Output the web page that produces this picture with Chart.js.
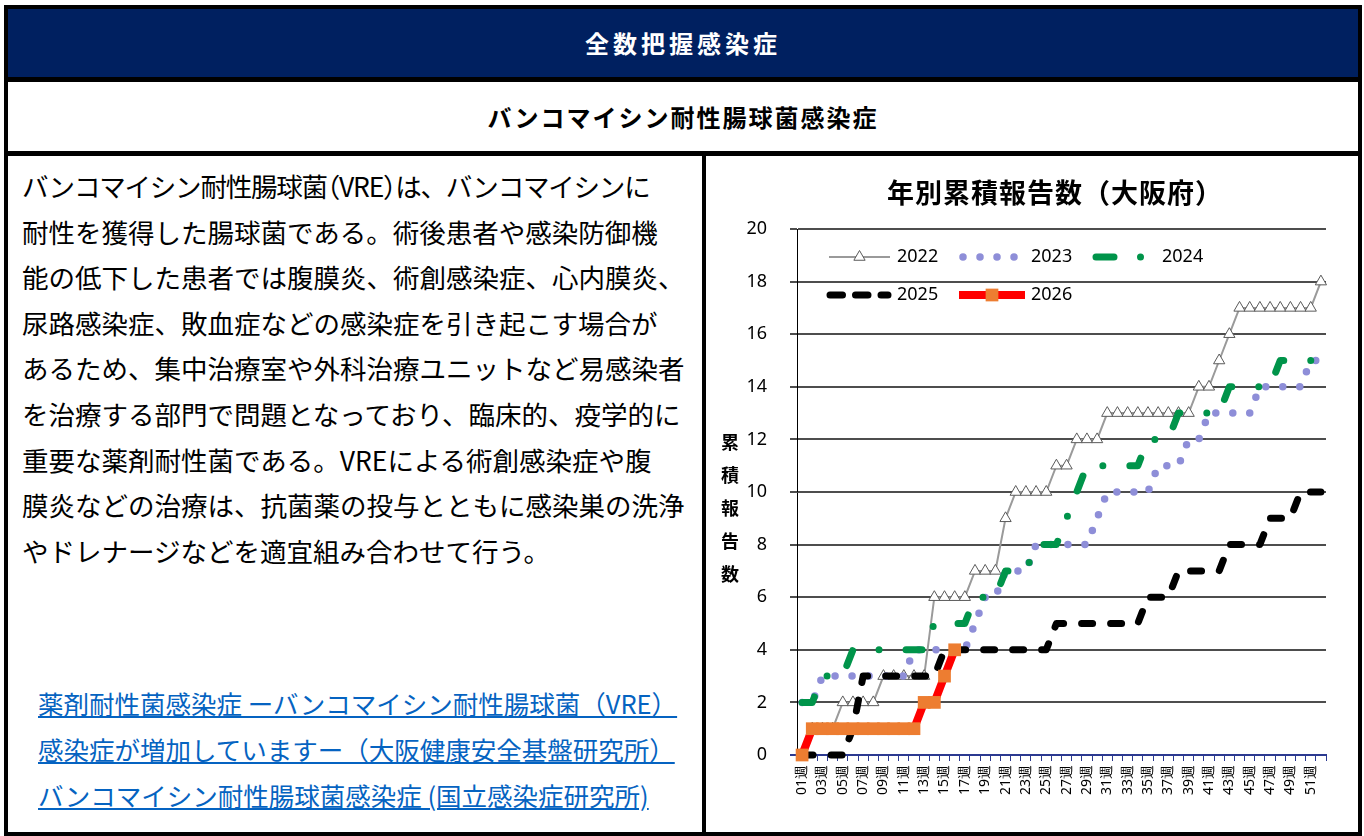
<!DOCTYPE html>
<html>
<head>
<meta charset="UTF-8">
<title>バンコマイシン耐性腸球菌感染症</title>
<style>
    body {
        margin: 0;
        background: #fff;
        font-family: "Noto Sans CJK JP", sans-serif;
    }
    .frame {
        position: absolute;
        left: 4px; top: 5px;
        width: 1358px; height: 831px;
        background: #000;
    }
    .box {
        position: absolute;
        background: #fff;
        overflow: hidden;
    }
    .head {
        left: 8px; top: 9px; width: 1350px; height: 68px;
        background: #002060;
        color: #fff;
        font-weight: bold;
        font-size: 24px;
        letter-spacing: 4px;
        line-height: 68px;
        text-align: center;
    }
    .sub {
        left: 8px; top: 82px; width: 1350px; height: 69px;
        font-weight: bold;
        font-size: 24px;
        letter-spacing: 2px;
        line-height: 69px;
        text-align: center;
    }
    .left {
        left: 8px; top: 156px; width: 694px; height: 676px;
    }
    .right {
        left: 706px; top: 156px; width: 652px; height: 676px;
    }
    .desc {
        position: absolute;
        left: 14px; top: 7px;
        font-size: 26.5px;
        line-height: 45.6px;
        white-space: nowrap;
        color: #000;
    }
    .tight {
        letter-spacing: -1.2px;
    }
    .narrow {
        font-feature-settings: "halt";
    }
    .links {
        position: absolute;
        left: 30px; top: 524px;
        font-size: 25.5px;
        line-height: 46px;
        white-space: nowrap;
    }
    .links a {
        color: #0563c1;
        text-decoration: underline;
    }
</style>
<!-- Chart.js -->
<script src="https://cdn.jsdelivr.net/npm/chart.js"></script>
</head>
<body>

<div class="frame"></div>
<div class="box head">全数把握感染症</div>
<div class="box sub">バンコマイシン耐性腸球菌感染症</div>

<div class="box left">
    <div class="desc">
        <span class="tight">バンコマイシン耐性腸球菌<span class="narrow">（</span>VRE<span class="narrow">）</span>は、バンコマイシンに</span><br>
        耐性を獲得した腸球菌である。術後患者や感染防御機<br>
        能の低下した患者では腹膜炎、術創感染症、心内膜炎、<br>
        尿路感染症、敗血症などの感染症を引き起こす場合が<br>
        あるため、集中治療室や外科治療ユニットなど易感染者<br>
        を治療する部門で問題となっており、臨床的、疫学的に<br>
        重要な薬剤耐性菌である。VREによる術創感染症や腹<br>
        膜炎などの治療は、抗菌薬の投与とともに感染巣の洗浄<br>
        やドレナージなどを適宜組み合わせて行う。
    </div>
    <div class="links">
        <a href="#">薬剤耐性菌感染症 ーバンコマイシン耐性腸球菌（VRE）<br>感染症が増加していますー（大阪健康安全基盤研究所）</a><br>
        <a href="#">バンコマイシン耐性腸球菌感染症 (国立感染症研究所)</a>
    </div>
</div>

<div class="box right">
    <canvas id="cumChart" width="652" height="676"></canvas>
</div>

<script>
    // week labels 01週 .. 52週
    const weekLabels = Array.from({ length: 52 }, (_, i) => String(i + 1).padStart(2, '0') + '週');

    const years = ['2022', '2023', '2024', '2025', '2026'];

    // cumulative reports per week
    const cases2022 = [0, 1, 1, 1, 2, 2, 2, 2, 3, 3, 3, 3, 3, 6, 6, 6, 6, 7, 7, 7, 9, 10, 10, 10, 10, 11,
                       11, 12, 12, 12, 13, 13, 13, 13, 13, 13, 13, 13, 13, 14, 14, 15, 16, 17, 17, 17, 17, 17, 17, 17, 17, 18];
    const cases2023 = [2, 2, 3, 3, 3, 3, 3, 3, 3, 3, 3, 4, 4, 4, 4, 4, 4, 5, 6, 6, 7, 7, 7, 8, 8, 8,
                       8, 8, 8, 9, 10, 10, 10, 10, 10, 11, 11, 11, 12, 12, 13, 13, 13, 13, 13, 14, 14, 14, 14, 14, 15, 15];
    const cases2024 = [2, 2, 3, 3, 3, 4, 4, 4, 4, 4, 4, 4, 4, 5, 5, 5, 5, 6, 6, 6, 7, 7, 7, 8, 8, 8,
                       9, 10, 11, 11, 11, 11, 11, 11, 12, 12, 12, 13, 13, 13, 13, 13, 14, 14, 14, 14, 14, 15, 15, 15, 15, 15];
    const cases2025 = [0, 0, 0, 0, 0, 1, 3, 3, 3, 3, 3, 3, 3, 3, 4, 4, 4, 4, 4, 4, 4, 4, 4, 4, 4, 5,
                       5, 5, 5, 5, 5, 5, 5, 5, 6, 6, 6, 7, 7, 7, 7, 7, 8, 8, 8, 8, 9, 9, 9, 10, 10, 10];
    const cases2026 = [0, 1, 1, 1, 1, 1, 1, 1, 1, 1, 1, 1, 2, 2, 3, 4];

    const yTicks = [0, 2, 4, 6, 8, 10, 12, 14, 16, 18, 20];

    const chartTitle = '年別累積報告数（大阪府）';
    const yTitleChars = ['累', '積', '報', '告', '数'];

    const navy = '#2b3990';

    // legend slots inside the plot, like the spreadsheet chart
    const legendSlots = [
        { x: 123, y: 101, len: 61, dash: [], textX: 191 },
        { x: 257, y: 101, len: 52, dash: [0, 17], textX: 325 },
        { x: 390, y: 101, len: 46, dash: [18, 26.5, 0, 100], textX: 456 },
        { x: 124, y: 139, len: 58, dash: [12.5, 13], textX: 191 },
        { x: 253, y: 139, len: 66, dash: [], textX: 325 }
    ];

    function drawMarker(ctx, ds, x, y) {
        if (ds.pointStyle === 'triangle') {
            const r = ds.pointRadius;
            ctx.beginPath();
            ctx.moveTo(x, y - r);
            ctx.lineTo(x + 0.866 * r, y + 0.5 * r);
            ctx.lineTo(x - 0.866 * r, y + 0.5 * r);
            ctx.closePath();
            ctx.fillStyle = ds.pointBackgroundColor;
            ctx.fill();
            ctx.lineWidth = ds.pointBorderWidth;
            ctx.strokeStyle = ds.pointBorderColor;
            ctx.stroke();
        } else if (ds.pointStyle === 'rect') {
            const s = ds.pointRadius * Math.SQRT1_2;
            ctx.fillStyle = ds.pointBackgroundColor;
            ctx.fillRect(x - s, y - s, 2 * s, 2 * s);
        }
    }

    const decorPlugin = {
        id: 'decor',
        afterDraw(chart) {
            const ctx = chart.ctx;
            const area = chart.chartArea;
            ctx.save();

            // chart title
            ctx.fillStyle = '#000';
            ctx.textAlign = 'center';
            ctx.textBaseline = 'middle';
            ctx.font = 'bold 27px "Noto Sans CJK JP"';
            ctx.letterSpacing = '1px';
            ctx.fillText(chartTitle, 349, 37);
            ctx.letterSpacing = '0px';

            // stacked y axis title
            ctx.font = 'bold 18px "Noto Sans CJK JP"';
            const mid = (area.top + area.bottom) / 2 + 16;
            yTitleChars.forEach((ch, i) => ctx.fillText(ch, 24, mid + (i - 2) * 33));

            // legend
            chart.data.datasets.forEach((ds, i) => {
                const slot = legendSlots[i];
                ctx.beginPath();
                ctx.setLineDash(slot.dash);
                ctx.lineCap = ds.borderCapStyle || 'butt';
                ctx.lineWidth = ds.borderWidth;
                ctx.strokeStyle = ds.borderColor;
                ctx.moveTo(slot.x, slot.y);
                ctx.lineTo(slot.x + slot.len, slot.y);
                ctx.stroke();
                ctx.setLineDash([]);
                if (ds.pointRadius > 0) {
                    drawMarker(ctx, ds, slot.x + slot.len / 2, slot.y);
                }
                ctx.fillStyle = '#000';
                ctx.textAlign = 'left';
                ctx.font = '18px "Noto Sans"';
                ctx.fillText(ds.label, slot.textX, slot.y);
            });

            ctx.restore();
        }
    };

    Chart.defaults.font.family = '"Noto Sans", sans-serif';
    Chart.defaults.color = '#000';

    const ctx = document.getElementById('cumChart').getContext('2d');

    new Chart(ctx, {
        type: 'line',
        data: {
            labels: weekLabels,
            datasets: [{
                label: years[0],
                data: cases2022,
                order: 5,
                borderColor: '#9a9a9a',
                borderWidth: 2,
                pointStyle: 'triangle',
                pointRadius: 6.5,
                pointBackgroundColor: '#fff',
                pointBorderColor: '#5a5a5a',
                pointBorderWidth: 1,
                clip: false
            }, {
                label: years[1],
                data: cases2023,
                order: 4,
                borderColor: '#8e8ed8',
                borderWidth: 7.5,
                borderDash: [0, 17],
                borderCapStyle: 'round',
                pointRadius: 0,
                clip: false
            }, {
                label: years[2],
                data: cases2024,
                order: 3,
                borderColor: '#00944a',
                borderWidth: 7,
                borderDash: [16, 27, 0, 27],
                borderCapStyle: 'round',
                borderJoinStyle: 'round',
                pointRadius: 0,
                clip: false
            }, {
                label: years[3],
                data: cases2025,
                order: 2,
                borderColor: '#000',
                borderWidth: 7,
                borderDash: [11, 18],
                borderCapStyle: 'round',
                borderJoinStyle: 'round',
                pointRadius: 0,
                clip: false
            }, {
                label: years[4],
                data: cases2026,
                order: 1,
                borderColor: '#ff0000',
                borderWidth: 8,
                pointStyle: 'rect',
                pointRadius: 9,
                pointBackgroundColor: '#ed7d31',
                pointBorderWidth: 0,
                clip: false
            }]
        },
        options: {
            responsive: false,
            animation: false,
            layout: {
                padding: { top: 73, right: 32, bottom: 0, left: 0 }
            },
            plugins: {
                legend: { display: false },
                title: { display: false },
                tooltip: { enabled: false }
            },
            scales: {
                x: {
                    offset: true,
                    afterFit: (scale) => { scale.height = 77; },
                    border: { color: navy, width: 2 },
                    grid: {
                        offset: true,
                        drawOnChartArea: false,
                        drawTicks: true,
                        tickLength: 6,
                        color: navy
                    },
                    ticks: {
                        autoSkip: false,
                        minRotation: 90,
                        maxRotation: 90,
                        padding: 4,
                        font: { size: 14 },
                        callback: function(value, index) {
                            return index % 2 === 0 ? weekLabels[index] : '';
                        }
                    }
                },
                y: {
                    min: yTicks[0],
                    max: yTicks[yTicks.length - 1],
                    afterFit: (scale) => { scale.width = 91; },
                    afterBuildTicks: (scale) => {
                        scale.ticks = yTicks.map(v => ({ value: v }));
                    },
                    border: { color: '#000', width: 1 },
                    grid: {
                        color: (c) => c.tick && c.tick.value === 0 ? navy : '#4d4d4d',
                        lineWidth: 2,
                        drawTicks: true,
                        tickLength: 7
                    },
                    ticks: {
                        padding: 23,
                        font: { size: 18 }
                    }
                }
            }
        },
        plugins: [decorPlugin]
    });
</script>
</body>
</html>
